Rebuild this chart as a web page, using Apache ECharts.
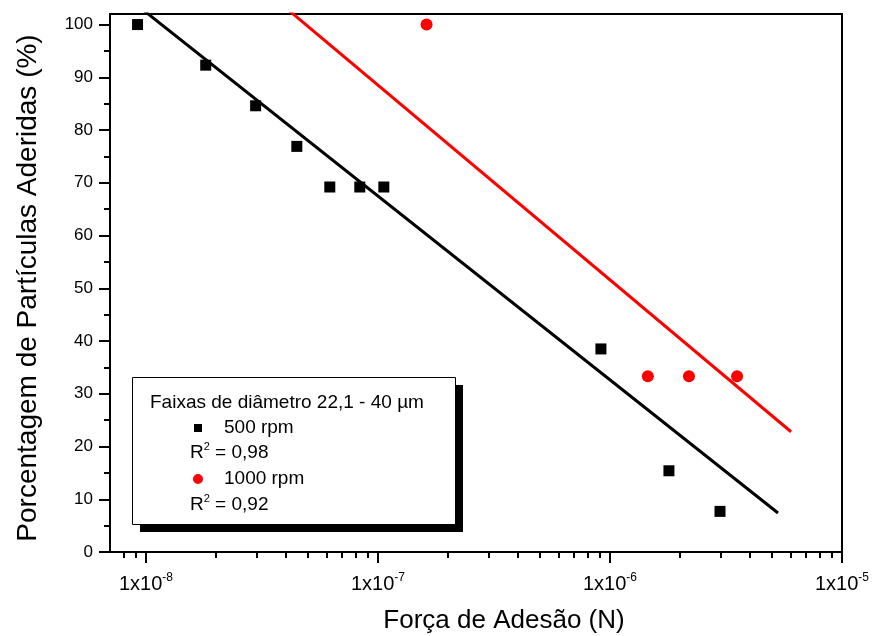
<!DOCTYPE html>
<html><head><meta charset="utf-8">
<script src="https://cdn.jsdelivr.net/npm/echarts@6/dist/echarts.min.js"></script>
<style>html,body{margin:0;padding:0;background:#fff}#c{width:873px;height:636px}</style>
</head><body><div id="c"></div>
<script>
// ---- data ----
const x500 = [9.2e-9, 1.81e-8, 2.97e-8, 4.47e-8, 6.2e-8, 8.35e-8, 1.06e-7, 9.14e-7, 1.795e-6, 2.98e-6];
const y500 = [100, 92.3, 84.6, 76.9, 69.2, 69.2, 69.2, 38.5, 15.4, 7.7];
const x1000 = [1.62e-7, 1.456e-6, 2.19e-6, 3.53e-6];
const y1000 = [100, 33.3, 33.3, 33.3];
const fit500X = [9.2e-9, 5.3e-6];
const fit500Y = [103.6, 7.4];
const fit1000X = [4.0e-8, 6.03e-6];
const fit1000Y = [103.2, 22.8];
const xMajorTicks = [1e-8, 1e-7, 1e-6, 1e-5];
const xMinorTicks = [8e-9, 9e-9,
  2e-8, 3e-8, 4e-8, 5e-8, 6e-8, 7e-8, 8e-8, 9e-8,
  2e-7, 3e-7, 4e-7, 5e-7, 6e-7, 7e-7, 8e-7, 9e-7,
  2e-6, 3e-6, 4e-6, 5e-6, 6e-6, 7e-6, 8e-6, 9e-6];
const yMajorTicks = [0, 10, 20, 30, 40, 50, 60, 70, 80, 90, 100];
const yMinorTicks = [5, 15, 25, 35, 45, 55, 65, 75, 85, 95];
const legendTitle = 'Faixas de diâmetro 22,1 - 40 µm';
const seriesNames = ['500 rpm', '1000 rpm'];
const r2Values = ['0,98', '0,92'];

const X_MIN = 7e-9, X_MAX = 1e-5, Y_MIN = 0, Y_MAX = 102;
const FONT = '"Liberation Sans", Arial, sans-serif';

const zip = (a, b) => a.map((v, i) => [v, b[i]]);

const chart = echarts.init(document.getElementById('c'), null, {renderer: 'canvas'});
const axisLineStyle = {color: '#000', width: 2};

const option = {
  animation: false,
  backgroundColor: '#fff',
  grid: {left: 110, right: 31, top: 14, bottom: 84, containLabel: false, outerBoundsMode: 'none'},
  xAxis: [
    {
      type: 'log', logBase: 10, position: 'bottom', min: X_MIN, max: X_MAX,
      axisLine: {show: true, onZero: false, lineStyle: axisLineStyle},
      axisTick: {show: true, customValues: xMajorTicks, length: 11, lineStyle: {color: '#000', width: 2}},
      axisLabel: {
        customValues: xMajorTicks, margin: 20,
        formatter: v => '{b|1x10}{s|' + Math.round(Math.log10(v)) + '}',
        rich: {
          b: {fontFamily: FONT, fontSize: 20, color: '#000', lineHeight: 24},
          s: {fontFamily: FONT, fontSize: 12, color: '#000', lineHeight: 12, verticalAlign: 'top'}
        }
      },
      splitLine: {show: false},
      name: 'Força de Adesão (N)', nameLocation: 'middle', nameGap: 56,
      nameTextStyle: {fontFamily: FONT, fontSize: 26, color: '#000', padding: [0, 0, 0, 56]}
    },
    {
      type: 'log', logBase: 10, position: 'bottom', min: X_MIN, max: X_MAX,
      axisLine: {show: false, onZero: false},
      axisTick: {show: true, customValues: xMinorTicks, length: 6, lineStyle: {color: '#000', width: 2}},
      axisLabel: {show: false}, splitLine: {show: false}
    },
    {
      type: 'log', logBase: 10, position: 'top', min: X_MIN, max: X_MAX,
      axisLine: {show: true, onZero: false, lineStyle: axisLineStyle},
      axisTick: {show: false}, axisLabel: {show: false}, splitLine: {show: false}
    }
  ],
  yAxis: [
    {
      type: 'value', position: 'left', min: Y_MIN, max: Y_MAX,
      axisLine: {show: true, onZero: false, lineStyle: axisLineStyle},
      axisTick: {show: true, customValues: yMajorTicks, length: 11, lineStyle: {color: '#000', width: 2}},
      axisLabel: {customValues: yMajorTicks, margin: 17, fontFamily: FONT, fontSize: 17, color: '#000'},
      splitLine: {show: false},
      name: 'Porcentagem de Partículas Aderidas (%)', nameLocation: 'middle', nameGap: 68,
      nameTextStyle: {fontFamily: FONT, fontSize: 28, color: '#000', padding: [0, 10, 0, 0]}
    },
    {
      type: 'value', position: 'left', min: Y_MIN, max: Y_MAX,
      axisLine: {show: false, onZero: false},
      axisTick: {show: true, customValues: yMinorTicks, length: 6, lineStyle: {color: '#000', width: 2}},
      axisLabel: {show: false}, splitLine: {show: false}
    },
    {
      type: 'value', position: 'right', min: Y_MIN, max: Y_MAX,
      axisLine: {show: true, onZero: false, lineStyle: axisLineStyle},
      axisTick: {show: false}, axisLabel: {show: false}, splitLine: {show: false}
    }
  ],
  series: [
    {
      name: seriesNames[0], type: 'scatter', xAxisIndex: 0, yAxisIndex: 0,
      symbol: 'rect', symbolSize: 11, itemStyle: {color: '#000', opacity: 1},
      data: zip(x500, y500), z: 3
    },
    {
      name: seriesNames[1], type: 'scatter', xAxisIndex: 0, yAxisIndex: 0,
      symbol: 'circle', symbolSize: 12, itemStyle: {color: '#ff0000', opacity: 1},
      data: zip(x1000, y1000), z: 3
    },
    {
      name: seriesNames[0] + ' fit', type: 'line', xAxisIndex: 0, yAxisIndex: 0,
      showSymbol: false, symbol: 'none', clip: true,
      lineStyle: {color: '#000', width: 3}, data: zip(fit500X, fit500Y), z: 4
    },
    {
      name: seriesNames[1] + ' fit', type: 'line', xAxisIndex: 0, yAxisIndex: 0,
      showSymbol: false, symbol: 'none', clip: true,
      lineStyle: {color: '#ff0000', width: 3}, data: zip(fit1000X, fit1000Y), z: 4
    }
  ],
  graphic: [
    {type: 'rect', left: 140, top: 385, z: 10, shape: {width: 323, height: 147}, style: {fill: '#000'}},
    {type: 'rect', left: 132, top: 377, z: 11, shape: {width: 323, height: 147}, style: {fill: '#fff', stroke: '#000', lineWidth: 1}},
    {type: 'text', left: 150, top: 393, z: 12, style: {text: legendTitle, fontFamily: FONT, fontSize: 19, fill: '#000'}},
    {type: 'rect', left: 194, top: 424, z: 12, shape: {width: 8, height: 8}, style: {fill: '#000'}},
    {type: 'text', left: 224, top: 418, z: 12, style: {text: seriesNames[0], fontFamily: FONT, fontSize: 19, fill: '#000'}},
    {type: 'text', left: 190, top: 441, z: 12, style: {
      text: '{n|R}{s|2}{n| = ' + r2Values[0] + '}',
      rich: {n: {fontFamily: FONT, fontSize: 19, fill: '#000', lineHeight: 23}, s: {fontFamily: FONT, fontSize: 11, fill: '#000', lineHeight: 12, verticalAlign: 'top'}}
    }},
    {type: 'circle', z: 12, shape: {cx: 198, cy: 479, r: 5}, style: {fill: '#ff0000'}},
    {type: 'text', left: 224, top: 469, z: 12, style: {text: seriesNames[1], fontFamily: FONT, fontSize: 19, fill: '#000'}},
    {type: 'text', left: 190, top: 493, z: 12, style: {
      text: '{n|R}{s|2}{n| = ' + r2Values[1] + '}',
      rich: {n: {fontFamily: FONT, fontSize: 19, fill: '#000', lineHeight: 23}, s: {fontFamily: FONT, fontSize: 11, fill: '#000', lineHeight: 12, verticalAlign: 'top'}}
    }}
  ]
};
chart.setOption(option);
</script>
</body></html>
